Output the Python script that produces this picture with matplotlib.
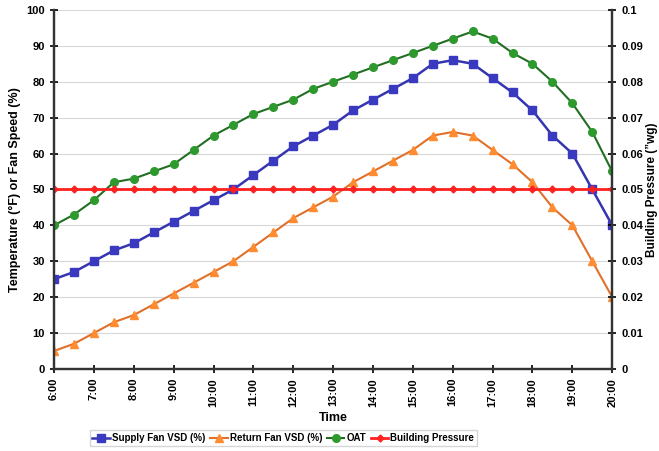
import matplotlib.pyplot as plt

plt.rcParams['font.family'] = ['Liberation Sans', 'DejaVu Sans']
plt.rcParams['font.weight'] = 'bold'

# half-hourly readings, 6:00 to 20:00
times = [6 + 0.5 * i for i in range(29)]
hour_labels = ['%d:00' % h for h in range(6, 21)]

supply_fan = [25, 27, 30, 33, 35, 38, 41, 44, 47, 50, 54, 58, 62, 65, 68,
              72, 75, 78, 81, 85, 86, 85, 81, 77, 72, 65, 60, 50, 40]
return_fan = [5, 7, 10, 13, 15, 18, 21, 24, 27, 30, 34, 38, 42, 45, 48,
              52, 55, 58, 61, 65, 66, 65, 61, 57, 52, 45, 40, 30, 20]
oat = [40, 43, 47, 52, 53, 55, 57, 61, 65, 68, 71, 73, 75, 78, 80,
       82, 84, 86, 88, 90, 92, 94, 92, 88, 85, 80, 74, 66, 55]
building_pressure = [0.05] * 29

fig = plt.figure(figsize=(6.59, 4.51), dpi=100)
ax = fig.add_axes([0.082, 0.182, 0.847, 0.796])
ax2 = ax.twinx()

l1, = ax.plot(times, supply_fan, color='#3535b0', lw=1.8, marker='s', ms=5.5,
              mfc='#3a3ac0', mec='#3a3ac0', label='Supply Fan VSD (%)')
l2, = ax.plot(times, return_fan, color='#e0702a', lw=1.5, marker='^', ms=5.5,
              mfc='#ff8c30', mec='#ff8c30', label='Return Fan VSD (%)')
l3, = ax.plot(times, oat, color='#226e22', lw=1.5, marker='o', ms=5.5,
              mfc='#2e9a2e', mec='#2e9a2e', label='OAT')
l4, = ax2.plot(times, building_pressure, color='#ff2020', lw=2, marker='D', ms=3.5,
               mfc='#ff2020', mec='#ff2020', label='Building Pressure')

ax.set_xlim(6, 20)
ax.set_ylim(0, 100)
ax2.set_ylim(0, 0.1)
ax.set_xticks(range(6, 21))
ax.set_xticklabels(hour_labels, rotation=90, fontsize=8, fontweight='bold')
ax.set_yticks(range(0, 101, 10))
ax.tick_params(axis='y', labelsize=8, direction='inout', length=6, width=1.2)
ax.tick_params(axis='x', direction='inout', length=6, width=1.2)
ax2.set_yticks([i / 100 for i in range(11)])
ax2.set_yticklabels(['0'] + ['%.2f' % (i / 100) for i in range(1, 10)] + ['0.1'])
ax2.tick_params(axis='y', labelsize=8, direction='inout', length=6, width=1.2)

ax.grid(axis='y', color='#d8d8d8', lw=0.8)
ax.set_axisbelow(True)
for a in (ax, ax2):
    a.spines['top'].set_visible(False)
    a.spines['left'].set_linewidth(1.6)
    a.spines['right'].set_linewidth(1.6)
    a.spines['bottom'].set_linewidth(1.6)
    for s in a.spines.values():
        s.set_color('#333333')

ax.set_xlabel('Time', fontsize=9, fontweight='bold', labelpad=4)
ax.set_ylabel('Temperature (°F) or Fan Speed (%)', fontsize=9, fontweight='bold')
ax2.set_ylabel('Building Pressure (\u201dwg)', fontsize=8.5, fontweight='bold', labelpad=2)

fig.legend(handles=[l1, l2, l3, l4], loc='lower center', ncol=4,
           bbox_to_anchor=(0.43, 0.0), fontsize=7, frameon=True,
           edgecolor='#cccccc', fancybox=False, handlelength=1.8,
           handletextpad=0.2, columnspacing=0.5, borderpad=0.3)

fig.savefig('out.png', dpi=100)
